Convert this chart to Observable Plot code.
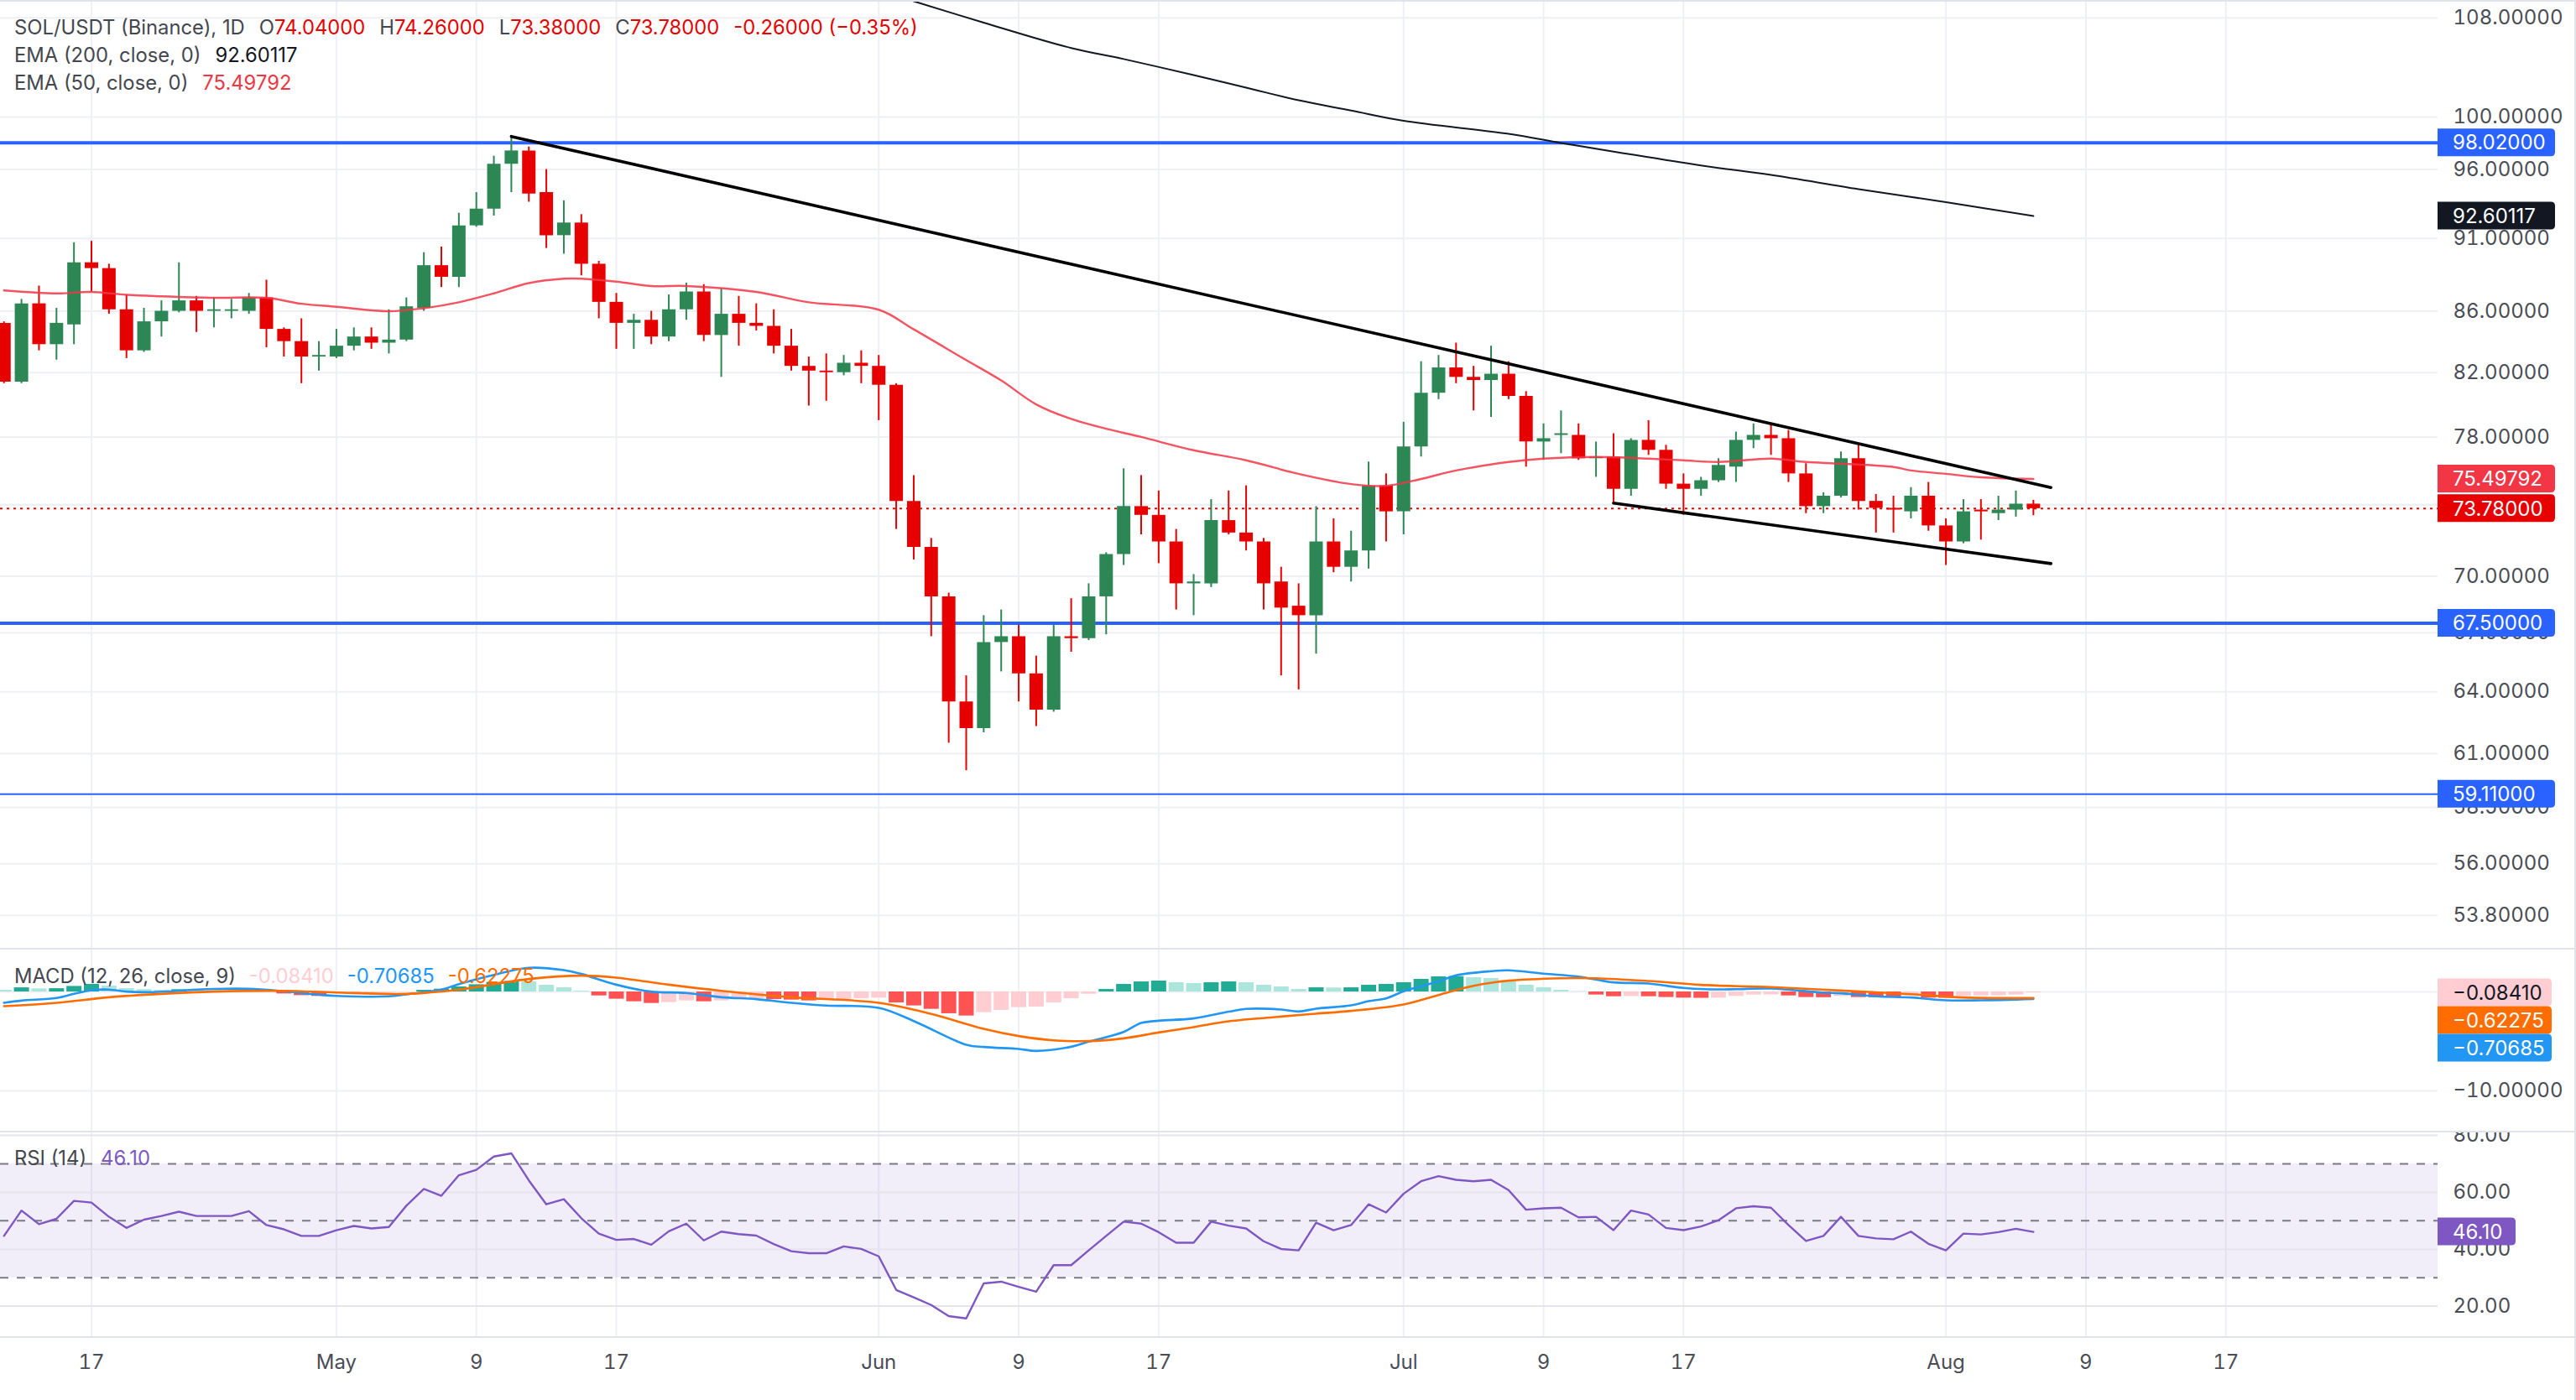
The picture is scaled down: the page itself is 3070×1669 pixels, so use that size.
<!DOCTYPE html>
<html><head><meta charset="utf-8">
<script src="https://cdn.jsdelivr.net/npm/d3@7"></script>
<script src="https://cdn.jsdelivr.net/npm/@observablehq/plot@0.6"></script>
<style>
html,body{margin:0;padding:0;background:#fff;}
#chart{position:relative;width:3070px;height:1669px;overflow:hidden;background:#fff;}
#chart svg{display:block;}
.bd{position:absolute;background:#e0e3eb;}
</style></head><body><div id="chart"></div>
<script>
// ---------- DATA ----------
const startDate = "2024-04-12"; // first daily candle
const opens = [85.2,81.4,86.5,83.8,85.1,89.3,88.9,86.1,83.4,85.3,
86.0,86.7,86.0,86.0,86.0,86.9,84.8,84.0,83.0,83.0,
83.7,84.3,83.9,84.1,86.2,89.1,88.3,91.9,93.1,96.4,
97.4,94.3,91.2,92.1,89.2,86.6,85.2,85.4,84.3,86.1,
87.3,84.4,85.8,85.2,85.0,83.7,82.4,82.1,82.0,82.6,
82.4,81.2,74.2,71.6,68.9,63.5,62.2,66.5,66.8,64.9,
63.1,66.8,66.7,68.9,71.2,73.9,73.4,71.9,69.6,69.6,
73.1,72.4,71.9,69.7,68.4,67.9,71.9,70.5,71.4,75.1,
73.6,77.4,80.7,82.3,81.7,81.5,81.9,80.5,77.7,78.1,
78.1,76.7,76.8,74.9,77.8,77.2,75.2,74.9,75.4,76.2,
77.8,78.1,77.9,75.8,73.9,74.5,76.7,74.2,73.8,73.6,
74.5,72.8,71.9,73.7,73.5,73.7,74.04];
const highs = [85.3,86.8,87.7,86.2,90.7,90.8,89.2,87.1,86.2,86.7,
89.3,87.0,86.9,86.8,87.2,88.1,84.9,85.5,84.0,84.8,
84.9,84.9,86.1,86.9,90.0,90.4,92.8,94.3,97.0,98.5,
97.7,96.0,93.7,92.7,89.4,87.2,85.8,86.0,87.1,87.9,
87.8,87.5,87.0,86.5,86.1,84.8,83.0,83.2,83.1,83.4,
83.1,81.3,75.7,72.1,69.1,64.8,67.9,68.2,67.4,65.8,
67.4,68.8,69.6,71.3,76.1,75.7,74.8,72.6,70.1,74.3,
74.8,75.1,72.1,70.5,69.6,73.9,73.2,72.5,76.5,75.8,
78.9,82.7,83.1,83.9,82.4,83.7,82.7,80.8,78.8,79.6,
78.8,77.7,78.2,77.9,79.0,77.5,75.8,75.6,76.7,78.3,
78.8,78.8,78.4,76.4,74.7,77.1,77.5,74.6,74.5,75.0,
75.3,73.2,74.3,74.3,74.5,74.8,74.26];
const lows = [81.3,81.3,83.4,82.8,83.8,87.3,85.8,82.9,83.3,84.3,
85.9,84.6,84.9,85.5,85.8,83.6,83.0,81.3,82.1,82.9,
83.4,83.5,83.2,84.0,86.0,87.6,87.6,91.8,92.6,94.3,
93.6,90.3,89.9,88.4,85.5,83.5,83.5,83.8,84.0,85.4,
84.0,81.7,83.7,84.7,83.2,82.1,79.9,80.2,81.8,81.3,
79.0,72.6,70.9,66.8,61.5,60.2,62.0,65.0,63.5,62.3,
63.0,66.0,66.6,66.9,70.6,72.3,70.7,68.2,67.9,69.4,
72.3,71.4,68.2,64.8,64.1,65.9,70.2,69.7,70.4,71.9,
72.3,76.8,80.3,81.3,79.6,79.2,80.3,76.2,76.6,77.0,
76.6,75.6,74.1,74.5,76.9,74.9,73.4,74.5,75.3,75.3,
77.3,76.9,75.3,73.5,73.5,74.4,73.7,72.4,72.4,73.2,
72.5,70.6,71.8,72.0,73.1,73.3,73.38];
const closes = [81.4,86.5,83.8,85.2,89.3,88.9,86.1,83.4,85.3,86.0,
86.7,86.0,86.1,86.1,86.9,84.8,84.0,83.0,83.1,83.7,
84.3,83.9,84.1,86.3,89.1,88.3,91.9,93.1,96.4,97.4,
94.2,91.2,92.1,89.2,86.6,85.2,85.4,84.3,86.1,87.3,
84.4,85.8,85.2,85.0,83.7,82.4,82.1,82.0,82.6,82.4,
81.2,74.2,71.6,68.9,63.5,62.2,66.5,66.8,64.9,63.1,
66.8,66.7,68.9,71.2,73.9,73.4,71.9,69.6,69.7,73.1,
72.4,71.9,69.6,68.3,67.9,71.9,70.5,71.4,75.1,73.6,
77.4,80.7,82.3,81.7,81.5,81.9,80.5,77.7,77.9,78.2,
76.7,76.8,74.9,77.8,77.2,75.2,74.9,75.4,76.3,77.8,
78.1,77.9,75.8,73.9,74.5,76.7,74.2,73.8,73.7,74.5,
72.8,71.9,73.6,73.6,73.7,74.04,73.78];
// EMA read points: [day index from startDate, value]
const ema50 = [[0,87.4],[3,87.2],[5,87.3],[7,87.1],[9,87.0],[12,86.9],[15,86.9],[17,86.5],[19,86.3],[22,86.0],[24,86.2],[26,86.6],[28,87.2],[30,87.9],[32,88.2],[33,88.2],[35,88.0],[37,87.7],[39,87.7],[43,87.3],[46,86.6],[50,86.1],[52,84.8],[55,82.8],[57,81.5],[59,80.0],[61,79.1],[63,78.5],[65,78.0],[68,77.2],[71,76.6],[74,75.8],[77,75.2],[79,75.1],[81,75.5],[83,76.0],[86,76.5],[88,76.7],[91,76.8],[94,76.7],[96,76.6],[98,76.5],[101,76.7],[103,76.5],[105,76.4],[108,76.2],[109,76.0],[111,75.8],[113,75.6],[116,75.49792]];
const ema200 = [[52,109.4],[56,107.6],[61,105.5],[64,104.6],[68,103.3],[71,102.3],[74,101.3],[77,100.5],[80,99.7],[86,98.7],[89,98.0],[92,97.35],[97,96.3],[101,95.6],[106,94.55],[111,93.6],[116,92.60117]];
const macdLine = [[0,-1.10],[1,-0.88],[3,-0.62],[4,-0.2],[5,0.17],[6,0.23],[7,0.03],[8,-0.03],[10,0.11],[11,0.23],[14,0.31],[16,0.06],[18,-0.28],[19,-0.4],[22,-0.45],[23,-0.25],[25,0.23],[26,0.79],[28,1.72],[30,2.43],[32,2.2],[33,1.81],[35,0.73],[37,0.03],[39,-0.11],[41,-0.54],[43,-0.73],[45,-1.10],[47,-1.38],[50,-1.61],[52,-2.94],[55,-5.34],[56,-5.56],[58,-5.76],[59,-5.96],[61,-5.54],[62,-5.03],[64,-4.04],[65,-3.14],[66,-2.91],[68,-2.68],[70,-2.0],[71,-1.72],[73,-1.78],[74,-1.98],[75,-1.69],[77,-1.36],[78,-0.93],[79,-0.65],[80,0.06],[82,1.05],[83,1.67],[85,2.09],[86,2.18],[88,1.84],[90,1.55],[92,0.96],[94,0.85],[96,0.40],[98,0.25],[99,0.28],[101,0.34],[104,-0.08],[105,-0.14],[107,-0.45],[109,-0.56],[111,-0.85],[113,-0.85],[116,-0.70685]];
const signalLine = [[0,-1.44],[3,-1.10],[6,-0.54],[9,-0.2],[12,0.03],[16,0.11],[19,-0.06],[23,-0.2],[26,0.23],[30,1.3],[33,1.64],[35,1.44],[38,0.73],[41,0.11],[45,-0.54],[50,-1.10],[53,-2.23],[56,-3.73],[58,-4.46],[60,-4.89],[62,-4.97],[64,-4.69],[66,-4.10],[68,-3.56],[70,-2.97],[73,-2.49],[75,-2.2],[77,-1.92],[80,-1.27],[82,-0.31],[84,0.62],[86,1.13],[89,1.38],[91,1.38],[94,1.10],[97,0.71],[101,0.48],[105,0.14],[109,-0.23],[112,-0.56],[116,-0.62275]];
const histVals = [0.17,0.42,0.31,0.33,0.56,0.76,0.59,0.34,0.23,0.17,
0.23,0.17,0.11,0.06,0.17,0.11,-0.20,-0.37,-0.45,-0.14,
-0.11,-0.08,-0.06,-0.03,0.17,0.28,0.51,0.73,0.96,1.07,
1.02,0.68,0.42,0.08,-0.40,-0.73,-0.99,-1.16,-1.07,-0.90,
-0.99,-0.90,-0.76,-0.68,-0.76,-0.82,-0.90,-0.82,-0.76,-0.68,
-0.62,-1.10,-1.41,-1.75,-2.20,-2.43,-2.09,-1.86,-1.58,-1.53,
-1.10,-0.68,-0.23,0.25,0.76,1.02,1.10,0.93,0.85,0.93,
1.02,0.93,0.68,0.51,0.25,0.42,0.40,0.42,0.68,0.76,
0.93,1.27,1.53,1.55,1.44,1.36,1.07,0.68,0.42,0.17,
0.03,-0.31,-0.48,-0.46,-0.48,-0.56,-0.62,-0.64,-0.62,-0.45,
-0.31,-0.30,-0.40,-0.56,-0.58,-0.45,-0.56,-0.58,-0.60,-0.40,
-0.62,-0.64,-0.45,-0.40,-0.38,-0.31,-0.0841];
const rsi = [44.7,53.6,48.8,50.7,57.0,56.4,51.4,47.5,50.4,51.7,
53.2,51.7,51.7,51.7,53.4,48.5,47.0,44.7,44.7,46.7,
48.2,47.3,47.8,55.3,61.2,58.8,66.0,67.9,72.6,73.7,
64.2,55.8,57.6,50.9,45.5,43.3,43.6,41.6,46.3,49.0,
43.1,46.2,45.3,44.8,41.8,39.3,38.6,38.6,41.0,40.1,
37.5,25.7,23.1,20.4,16.5,15.7,28.0,28.6,26.8,25.1,
34.4,34.4,39.6,44.7,49.7,49.0,46.0,42.3,42.3,49.7,
48.3,47.3,42.8,40.1,39.6,49.3,46.7,48.5,55.8,52.9,
59.5,63.9,65.7,64.4,63.9,64.4,60.8,53.9,54.4,54.6,
51.2,51.4,46.7,53.6,52.2,47.5,46.7,48.0,50.2,54.4,
55.1,54.6,48.5,42.9,44.7,51.4,44.7,43.8,43.5,46.2,
41.9,39.6,45.5,45.2,46.0,47.2,46.10];
const levels = [98.02, 67.5, 59.11];
const upperTrend = [["2024-05-11", 98.5], ["2024-08-07", 75.0]];
const lowerTrend = [["2024-07-13", 74.1], ["2024-08-07", 70.7]];
const priceTicks = [108, 100, 96, 91, 86, 82, 78, 74, 70, 67, 64, 61, 58.5, 56, 53.8];
const macdTicks = [0, -10];
const rsiTicks = [80, 60, 40, 20];
const rsiBands = [70, 50, 30];
const timeTicks = ["2024-04-17","2024-05-01","2024-05-09","2024-05-17","2024-06-01","2024-06-09","2024-06-17","2024-07-01","2024-07-09","2024-07-17","2024-08-01","2024-08-09","2024-08-17"];
const symbolTitle = "SOL/USDT (Binance), 1D";

// ---------- BUILD ----------
const DAY = 864e5;
const t0 = new Date(startDate + "T00:00:00Z");
const kDate = k => new Date(+t0 + k * DAY);
const dates = opens.map((_, i) => kDate(i));
const candles = dates.map((date, i) => ({date, o: opens[i], h: highs[i], l: lows[i], c: closes[i]}));
const pts = arr => arr.map(([k, v]) => ({date: kDate(k), v}));
const trend = arr => arr.map(([d, v]) => ({date: new Date(d + "T00:00:00Z"), v}));
const tickDates = timeTicks.map(s => new Date(s + "T00:00:00Z"));

const GREEN = "#2d8755", RED = "#e60000";
const candleColor = d => d.c >= d.o ? GREEN : RED;
const histData = histVals.map((v, i) => {
  const rising = i > 0 && v > histVals[i - 1];
  const col = v >= 0 ? (rising ? "#22ab94" : "#ace5dc") : (rising || i === 0 ? "#ffcdd2" : "#ff5252");
  return {date: dates[i], v, col};
});
const rsiData = rsi.map((v, i) => ({date: dates[i], v}));

const W = 3070, MR = 165, FRAME_R = W - MR;
const ref = new Date("2024-04-17T00:00:00Z");
const xDomain = [new Date(+ref - 5.204 * DAY), new Date(+ref + 134.125 * DAY)];
const FONT = "Inter, 'Noto Sans', sans-serif";
const AXC = "#4a4d55";
const GRID = "#eef0f4";
const baseStyle = {fontFamily: FONT, fontSize: "24px", color: AXC, background: "transparent"};
const xOpt = {type: "utc", domain: xDomain};

const root = document.getElementById("chart");

// ---- main price pane ----
const main = Plot.plot({
  width: W, height: 1131, marginLeft: 0, marginRight: MR, marginTop: 0, marginBottom: 0,
  style: baseStyle,
  x: {...xOpt, axis: null},
  y: {type: "log", domain: [52.41, 109.47], label: null},
  color: {type: "identity"},
  marks: [
    Plot.gridX(tickDates, {stroke: GRID, strokeOpacity: 1, strokeWidth: 2}),
    Plot.gridY(priceTicks, {stroke: GRID, strokeOpacity: 1, strokeWidth: 2}),
    Plot.ruleY(levels, {stroke: "#2962ff", strokeWidth: d => d === levels[2] ? 2 : 4}),
    Plot.ruleY([closes[closes.length - 1]], {stroke: RED, strokeWidth: 2, strokeDasharray: "3,5"}),
    Plot.line(pts(ema200), {x: "date", y: "v", stroke: "#131722", strokeWidth: 2, curve: "catmull-rom", clip: true}),
    Plot.ruleX(candles, {x: "date", y1: "l", y2: "h", stroke: candleColor, strokeWidth: 2}),
    Plot.ruleX(candles, {x: "date", y1: "o", y2: "c", stroke: candleColor, strokeWidth: 16}),
    Plot.line(pts(ema50), {x: "date", y: "v", stroke: "#f23645", strokeWidth: 2.4, strokeOpacity: 0.85, curve: "catmull-rom"}),
    Plot.line(trend(upperTrend), {x: "date", y: "v", stroke: "#000", strokeWidth: 3.6}),
    Plot.line(trend(lowerTrend), {x: "date", y: "v", stroke: "#000", strokeWidth: 3.6}),
    Plot.axisY(priceTicks, {anchor: "right", label: null, tickSize: 0, tickPadding: 18, tickFormat: d => d.toFixed(5)})
  ]
});
root.appendChild(main);

// ---- MACD pane ----
const minus = s => s.replace("-", "\u2212");
const macd = Plot.plot({
  width: W, height: 218, marginLeft: 0, marginRight: MR, marginTop: 0, marginBottom: 0,
  style: baseStyle,
  x: {...xOpt, axis: null},
  y: {domain: [-14.15, 4.32], label: null},
  color: {type: "identity"},
  marks: [
    Plot.gridX(tickDates, {stroke: GRID, strokeOpacity: 1, strokeWidth: 2}),
    Plot.gridY(macdTicks, {stroke: GRID, strokeOpacity: 1, strokeWidth: 2}),
    Plot.ruleX(histData, {x: "date", y1: 0, y2: "v", stroke: "col", strokeWidth: 18}),
    Plot.line(pts(macdLine), {x: "date", y: "v", stroke: "#2196f3", strokeWidth: 2.6, curve: "catmull-rom"}),
    Plot.line(pts(signalLine), {x: "date", y: "v", stroke: "#ff6d00", strokeWidth: 2.6, curve: "catmull-rom"}),
    Plot.axisY(macdTicks.filter(d => d !== 0), {anchor: "right", label: null, tickSize: 0, tickPadding: 18, tickFormat: d => minus(d.toFixed(5))})
  ]
});
root.appendChild(macd);

// ---- RSI pane + time axis ----
const monthFmt = d3.utcFormat("%b");
const rsiPlot = Plot.plot({
  width: W, height: 320, marginLeft: 0, marginRight: MR, marginTop: 0, marginBottom: 76,
  style: baseStyle,
  x: {...xOpt, label: null},
  y: {domain: [9.27, 81.21], label: null},
  marks: [
    Plot.gridX(tickDates, {stroke: GRID, strokeOpacity: 1, strokeWidth: 2}),
    Plot.rect([0], {y1: rsiBands[2], y2: rsiBands[0], fill: "#7e57c2", fillOpacity: 0.1}),
    Plot.gridY(rsiTicks, {stroke: "#e6e3ee", strokeOpacity: 1, strokeWidth: 2}),
    Plot.ruleY(rsiBands, {stroke: "#787b86", strokeWidth: 2, strokeDasharray: "10,10"}),
    Plot.line(rsiData, {x: "date", y: "v", stroke: "#7e57c2", strokeWidth: 2.4}),
    Plot.axisY(rsiTicks, {anchor: "right", label: null, tickSize: 0, tickPadding: 18, tickFormat: d => d.toFixed(2)}),
    Plot.axisX(tickDates, {anchor: "bottom", label: null, tickSize: 0, tickPadding: 21,
      tickFormat: d => d.getUTCDate() === 1 ? monthFmt(d) : String(d.getUTCDate())})
  ]
});
root.appendChild(rsiPlot);

// ---------- price tags on the scale ----------
function addTags(svg, list, h = 33) {
  const y = svg.scale("y");
  const g = d3.select(svg).append("g").attr("font-family", FONT).attr("font-size", 24).attr("text-anchor", "start");
  const items = list.map(t => ({...t, y: y.apply(t.v)})).sort((a, b) => a.y - b.y);
  let prev = -Infinity;
  for (const t of items) { t.y = Math.max(t.y, prev + h); prev = t.y; }
  for (const t of items) {
    const x0 = FRAME_R, x1 = FRAME_R + t.w, y0 = t.y - h / 2, y1 = t.y + h / 2, r = 5;
    g.append("path").attr("fill", t.bg)
      .attr("d", `M${x0},${y0}H${x1 - r}Q${x1},${y0} ${x1},${y0 + r}V${y1 - r}Q${x1},${y1} ${x1 - r},${y1}H${x0}Z`);
    g.append("text").attr("x", x0 + 18).attr("y", t.y).attr("dy", "0.36em").attr("fill", t.fg).text(t.label);
  }
}
const lastClose = closes[closes.length - 1];
const last = a => a[a.length - 1][1];
addTags(main, [
  {v: levels[0], bg: "#2962ff", fg: "#fff", w: 140, label: levels[0].toFixed(5)},
  {v: last(ema200), bg: "#131722", fg: "#fff", w: 140, label: last(ema200).toFixed(5)},
  {v: last(ema50), bg: "#f23645", fg: "#fff", w: 140, label: last(ema50).toFixed(5)},
  {v: lastClose, bg: RED, fg: "#fff", w: 140, label: lastClose.toFixed(5)},
  {v: levels[1], bg: "#2962ff", fg: "#fff", w: 140, label: levels[1].toFixed(5)},
  {v: levels[2], bg: "#2962ff", fg: "#fff", w: 140, label: levels[2].toFixed(5)}
]);
const hLast = histVals[histVals.length - 1];
addTags(macd, [
  {v: hLast, bg: "#ffcdd2", fg: "#131722", w: 136, label: minus(hLast.toFixed(5))},
  {v: last(signalLine), bg: "#ff6d00", fg: "#fff", w: 136, label: minus(last(signalLine).toFixed(5))},
  {v: last(macdLine), bg: "#2196f3", fg: "#fff", w: 136, label: minus(last(macdLine).toFixed(5))}
]);
const rLast = rsi[rsi.length - 1];
addTags(rsiPlot, [{v: rLast, bg: "#7e57c2", fg: "#fff", w: 93, label: rLast.toFixed(2)}]);

// ---------- pane legends ----------
function legend(svg, lines) {
  const g = d3.select(svg).append("g").attr("font-family", FONT).attr("font-size", 23.8).attr("text-anchor", "start");
  for (const ln of lines) {
    const t = g.append("text").attr("x", 17).attr("y", ln.y);
    for (const p of ln.parts) {
      const s = t.append("tspan").attr("fill", p.c).text(p.t);
      if (p.dx) s.attr("dx", p.dx);
    }
  }
}
const LAB = "#44474f", VAL = "#131722";
const o = opens[opens.length - 1], hh = highs[highs.length - 1], ll = lows[lows.length - 1];
const prevClose = closes[closes.length - 2];
const chg = lastClose - prevClose, pct = chg / prevClose * 100;
const dirC = lastClose >= o ? GREEN : RED;
legend(main, [
  {y: 41, parts: [
    {t: symbolTitle, c: LAB},
    {t: "O", c: LAB, dx: 17}, {t: o.toFixed(5), c: dirC},
    {t: "H", c: LAB, dx: 17}, {t: hh.toFixed(5), c: dirC},
    {t: "L", c: LAB, dx: 17}, {t: ll.toFixed(5), c: dirC},
    {t: "C", c: LAB, dx: 17}, {t: lastClose.toFixed(5), c: dirC},
    {t: chg.toFixed(5) + " (" + minus(pct.toFixed(2)) + "%)", c: dirC, dx: 17}
  ]},
  {y: 74, parts: [{t: "EMA (200, close, 0)", c: LAB}, {t: last(ema200).toFixed(5), c: VAL, dx: 17}]},
  {y: 107, parts: [{t: "EMA (50, close, 0)", c: LAB}, {t: last(ema50).toFixed(5), c: "#f23645", dx: 17}]}
]);
legend(macd, [{y: 41, parts: [
  {t: "MACD (12, 26, close, 9)", c: LAB},
  {t: hLast.toFixed(5), c: "#ffcdd2", dx: 16},
  {t: last(macdLine).toFixed(5), c: "#2196f3", dx: 16},
  {t: last(signalLine).toFixed(5), c: "#ff6d00", dx: 16}
]}]);
legend(rsiPlot, [{y: 40, parts: [{t: "RSI (14)", c: LAB}, {t: rLast.toFixed(2), c: "#7e57c2", dx: 17}]}]);

// ---------- pane borders ----------
[[0, 0, W, 2], [0, 1130, W, 2], [0, 1348, W, 2], [0, 1593, W, 2], [W - 2, 0, 2, 1669]].forEach(([x, y, w, h]) => {
  const d = document.createElement("div");
  d.className = "bd";
  Object.assign(d.style, {left: x + "px", top: y + "px", width: w + "px", height: h + "px"});
  root.appendChild(d);
});
</script></body></html>
